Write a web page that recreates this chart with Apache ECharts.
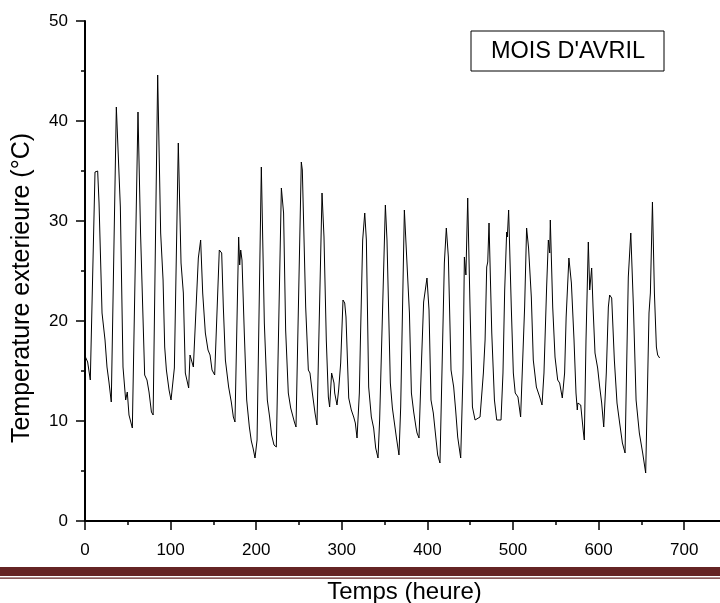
<!DOCTYPE html>
<html>
<head>
<meta charset="utf-8">
<script src="https://cdn.jsdelivr.net/npm/echarts@6/dist/echarts.min.js"></script>
<style>html,body{margin:0;padding:0;background:#fff}#c{width:720px;height:603px}</style>
</head>
<body>
<div id="c"></div>
<script>
// Hours (x) and outdoor temperature (°C)
const hours = [0,3.1,6.2,11.7,14.8,16.4,19.9,23.4,25.7,28,30.7,36.6,38.2,41.3,44.4,47.5,49.4,51.4,55.3,61.9,64.9,69.7,72.4,74.8,77.6,79.6,84.9,88.4,91.2,93.1,95.1,98.2,
100.5,104.4,109,112.2,114.9,117.2,121.1,122.7,126.6,132.4,135.1,137.5,140.6,143.7,146.1,148.4,151.5,156.9,159.7,161.6,164,167.8,170.9,173.3,175.2,179.5,180.7,181.9,183.4,186.1,188.9,192,194.3,196.3,198.6,201,
206,209.5,213,215.7,218,220.8,223.5,229.4,232,234.4,237.5,240.3,242.2,244.6,246.5,252.7,253.9,257.8,260.9,262.8,265.6,268.7,271,276.9,279.2,281.9,284.3,285.8,288.1,290.9,
291.7,294.4,296.3,298.7,301.4,303.4,304.9,308.1,311.1,313.9,315.8,317.8,320.5,321.7,324.4,326.8,328.7,331.4,334.5,337.2,339.6,342.3,344.2,350.9,352.8,356.7,359.1,361.4,363.7,366.8,368.8,373.1,375.1,379,381.3,384,386.8,
387.9,390.2,393.3,395.6,397.2,399.5,401.9,404.2,406.9,408.1,409.6,412,414.7,419.8,422.1,424.5,427.6,430.7,433,435.4,436.9,438.9,441.6,443.2,444.4,445,447.1,449.8,452.6,455.7,458,461.5,465.4,467.4,469.3,470.5,472,475.2,478.3,481,482.9,486,
488.3,490.3,492.6,493.4,494.9,498,500.4,502.6,505.8,508.9,510.4,513.6,515.9,518.2,521.4,523.7,527.3,531.2,533.9,536.2,539.3,541.3,542.5,542.9,543.6,546.4,549.1,552.2,554.5,557.6,560.3,562.1,565.3,568.2,571.3,573.6,575.1,575.8,579.1,582.2,
583.3,585.3,588,589.6,591.9,593.5,595.8,598.9,601.3,603.6,606,609,611.4,612.9,615.3,618.4,621.5,624.6,627.8,630.9,634.7,635.8,637.6,640.7,643.8,647.6,651.5,655,657.3,658.9,660.5,662.9,665.2,667.5,669,671.3];
const temps = [16.5,15.9,14.1,34.9,35,31.8,20.8,18.1,15.4,13.9,11.9,41.4,41.5,31.4,15.4,12.1,12.9,10.6,9.3,40.9,28.8,14.6,14.1,12.9,10.9,10.6,44.6,28.8,24.1,17.4,15.1,13.1,
12.1,15.3,37.8,25.8,22.8,14.8,13.3,16.6,15.4,26.3,28.1,22.8,18.8,17.1,16.6,15.1,14.6,27.1,26.8,21.4,16.1,13.4,11.9,10.4,9.9,28.4,25.6,27.1,26.1,18.8,12.1,9.4,8,7.3,6.3,8.1,
35.4,19.8,12.1,10.4,8.6,7.6,7.4,33.3,30.8,19.1,12.8,11.3,11.1,9.9,9.4,35.9,35.1,21.4,15.1,14.8,12.8,10.8,9.6,32.8,28.4,18.1,12.4,11.4,14.8,13.8,
12.8,11.6,13.1,15.8,22.1,21.8,20.4,12.3,11.1,10.4,9.8,8.3,12.8,17.8,28.1,30.8,28.1,13.4,10.4,9.3,7.3,6.3,10.1,31.6,28.1,13.8,11.3,11.1,8.4,6.6,11.4,31.1,27.6,20.8,12.8,10.9,9.3,
8.8,8.3,16.4,21.9,22.1,24.3,21.1,12.1,10.8,9.8,9.8,6.6,5.8,25.8,29.3,26.4,15.1,13.4,11.1,8.4,8.3,6.3,14.8,26.4,26.6,24.6,32.3,21.4,11.4,10.1,9.9,10.4,14.8,18.1,25.4,25.9,29.8,18.8,12.1,10.1,9.9,10.1,
14.8,23.1,28.9,28.4,31.1,21.4,14.8,12.8,12.4,10.4,10.4,21.4,29.3,27.3,22.4,16.1,13.4,12.4,11.6,14.8,23.4,28.1,28.1,26.8,30.1,21.4,16.4,14.1,13.8,12.3,14.8,20.4,26.3,23.8,18.1,12.8,11.1,11.8,11.6,8.9,
8.1,18.1,27.9,23.1,25.3,21.4,16.8,15.3,13.4,11.8,9.4,14.8,21.4,22.6,22.3,16.1,11.8,9.8,7.8,6.8,24.4,24.4,28.8,21.4,12.1,8.8,6.8,4.8,14.1,20.8,22.8,31.9,22.8,17.4,16.6,16.3];
const xTicks = [0,100,200,300,400,500,600,700];
const yTicks = [0,10,20,30,40,50];

const FONT = '"Liberation Sans", Arial, sans-serif';
const chart = echarts.init(document.getElementById('c'), null, {renderer: 'canvas'});
chart.setOption({
  animation: false,
  backgroundColor: '#fff',
  grid: {left: 85, right: -4, top: 21, bottom: 82, containLabel: false, outerBoundsMode: 'none'},
  xAxis: {
    type: 'value', min: 0, max: 746.5, interval: 100,
    name: 'Temps (heure)', nameLocation: 'middle', nameGap: 59,
    nameTextStyle: {fontFamily: FONT, fontSize: 24, color: '#000'},
    axisLine: {show: true, onZero: false, lineStyle: {color: '#000', width: 2}},
    axisTick: {show: true, inside: false, length: 9, lineStyle: {color: '#000', width: 1.5}},
    minorTick: {show: true, splitNumber: 2, length: 4, lineStyle: {color: '#000', width: 1.5}},
    axisLabel: {show: true, margin: 21, fontFamily: FONT, fontSize: 17, color: '#000', showMaxLabel: false,
      formatter: v => xTicks.includes(v) ? String(v) : ''},
    splitLine: {show: false}
  },
  yAxis: {
    type: 'value', min: 0, max: 50, interval: 10,
    axisLine: {show: true, lineStyle: {color: '#000', width: 2}},
    axisTick: {show: true, inside: false, length: 9, lineStyle: {color: '#000', width: 1.5}},
    minorTick: {show: true, splitNumber: 2, length: 4, lineStyle: {color: '#000', width: 1.5}},
    axisLabel: {show: true, margin: 17, fontFamily: FONT, fontSize: 17, color: '#000',
      formatter: v => yTicks.includes(v) ? String(v) : ''},
    splitLine: {show: false}
  },
  series: [{
    type: 'line',
    data: hours.map((h, i) => [h, temps[i]]),
    showSymbol: false,
    symbol: 'none',
    lineStyle: {color: '#000', width: 1},
    smooth: false
  }],
  graphic: [
    {type: 'text', x: 22, y: 288, rotation: Math.PI / 2,
      style: {text: 'Temperature exterieure (°C)', fontFamily: FONT, fontSize: 25, fill: '#000', align: 'center', verticalAlign: 'middle'}},
    {type: 'rect', shape: {x: 471, y: 31, width: 193, height: 40}, style: {fill: '#fff', stroke: '#000', lineWidth: 1}, z: 10},
    {type: 'text', x: 568, y: 52, style: {text: "MOIS D'AVRIL", fontFamily: FONT, fontSize: 23.5, fill: '#000', align: 'center', verticalAlign: 'middle'}, z: 11},
    {type: 'rect', shape: {x: 0, y: 567, width: 720, height: 9}, style: {fill: '#652424'}, z: 20},
    {type: 'rect', shape: {x: 0, y: 577.5, width: 720, height: 1.2}, style: {fill: '#652424'}, z: 20}
  ]
});
</script>
</body>
</html>
